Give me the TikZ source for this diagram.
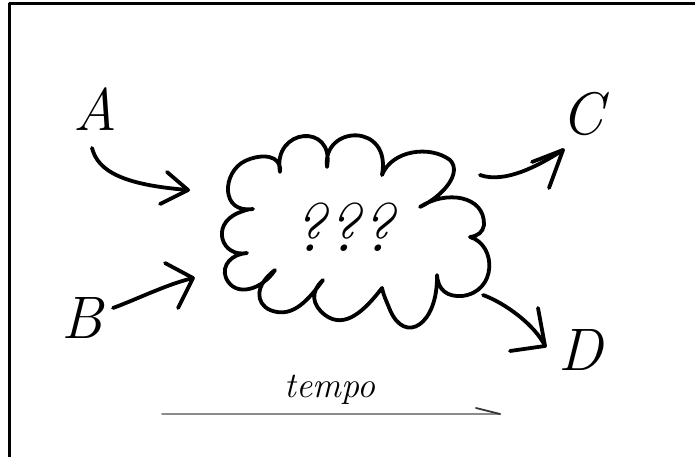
\documentclass[tikz,border=0pt]{standalone}
\begin{document}
\begin{tikzpicture}[x=1pt,y=-1pt,line cap=round,line join=round,
  ink/.style={line width=3.8pt,black},
  lbl/.style={font=\fontsize{60}{60}\selectfont\itshape,inner sep=0pt},
  frame/.style={line width=3pt,black},
  timeline/.style={line width=2pt,black!45}]
\useasboundingbox (0,0) rectangle (695,457);
% frame (top and left only)
\coordinate (f0) at (9,457);
\coordinate (f1) at (9,4);
\coordinate (f2) at (695,4);
\draw[frame] (f0) -- (f1) -- (f2);
% labels
\node[lbl] (A) at (95,109) {A};
\node[lbl] (B) at (82,318) {B};
\node[lbl] (C) at (582,114) {C};
\node[lbl] (D) at (581,350) {D};
\node[font=\fontsize{68}{68}\selectfont\itshape,inner sep=0pt] (Q) at (343,227) {???};
\node[font=\fontsize{36}{36}\selectfont\itshape,inner sep=0pt,anchor=base] (T) at (330,397) {tempo};
% cloud
\draw[ink] (253,209)
  .. controls (220,214) and (222,172) .. (245,161)
  .. controls (262,153) and (282,155) .. (280,172)
  .. controls (272,128) and (335,122) .. (327,167)
  .. controls (322,125) and (392,122) .. (382,175)
  .. controls (392,150) and (430,145) .. (450,160)
  .. controls (462,172) and (445,195) .. (420,207)
  .. controls (445,190) and (485,195) .. (484,225)
  .. controls (483,232) and (478,236) .. (470,237)
  .. controls (497,245) and (497,292) .. (462,296)
  .. controls (447,297) and (438,290) .. (437,275)
  .. controls (438,325) and (405,345) .. (390,310)
  .. controls (386,300) and (383,294) .. (382,288)
  .. controls (365,310) and (345,330) .. (325,315)
  .. controls (312,305) and (310,292) .. (323,280)
  .. controls (305,305) and (290,318) .. (270,310)
  .. controls (255,303) and (255,285) .. (275,270)
  .. controls (262,290) and (235,298) .. (226,278)
  .. controls (221,265) and (232,254) .. (247,253)
  .. controls (222,258) and (210,225) .. (238,213)
  .. controls (243,211) and (248,209) .. (253,209);
% arrow A
\coordinate (a0) at (92,148);
\coordinate (a1) at (188,190);
\coordinate (a2) at (167,172);
\coordinate (a3) at (160,204);
\draw[ink] (a0) .. controls (98,172) and (125,185) .. (a1);
\draw[ink] (a2) -- (a1) -- (a3);
% arrow B
\coordinate (b0) at (113,308);
\coordinate (b1) at (193,278);
\coordinate (b2) at (165,263);
\coordinate (b3) at (178,308);
\draw[ink] (b0) .. controls (140,298) and (165,285) .. (b1);
\draw[ink] (b2) -- (b1) -- (b3);
% arrow C
\coordinate (c0) at (480,175);
\coordinate (c1) at (563,150);
\coordinate (c2) at (532,162);
\coordinate (c3) at (549,188);
\draw[ink] (c0) .. controls (505,184) and (540,165) .. (c1);
\draw[ink] (c2) -- (c1) -- (c3);
% arrow D
\coordinate (d0) at (483,295);
\coordinate (d1) at (545,346);
\coordinate (d2) at (538,308);
\coordinate (d3) at (510,351);
\draw[ink] (d0) .. controls (505,303) and (535,325) .. (d1);
\draw[ink] (d2) -- (d1) -- (d3);
% time line
\coordinate (t0) at (162,414);
\coordinate (t1) at (500,414);
\coordinate (t2) at (476,408);
\draw[timeline] (t0) -- (t1);
\draw[line width=1.8pt,black!80] (t2) -- (t1);
\end{tikzpicture}
\end{document}
